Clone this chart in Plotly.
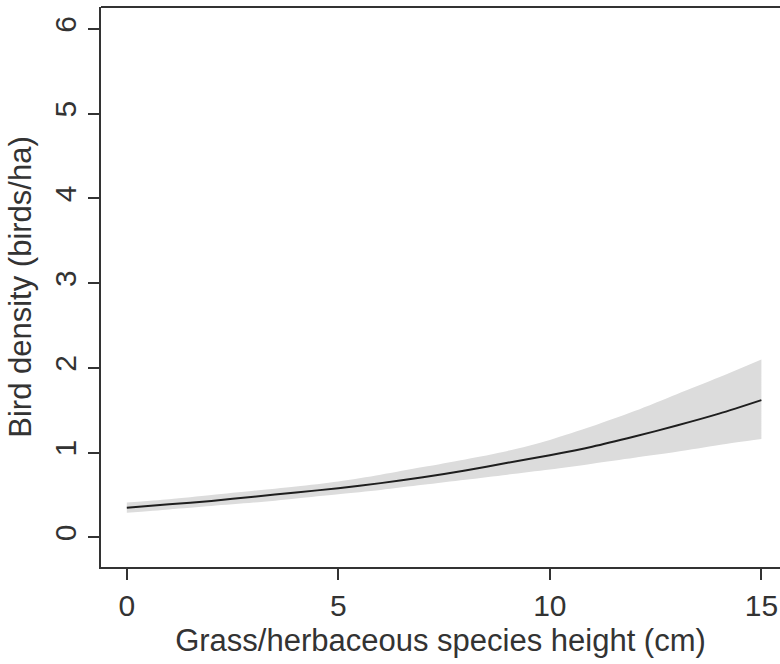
import plotly.graph_objects as go

# Data
height_cm = [0, 1, 2, 3, 4, 5, 6, 7, 8, 9, 10, 11, 12, 13, 14, 15]
density_mean = [0.35, 0.39, 0.43, 0.48, 0.53, 0.58, 0.64, 0.71, 0.79, 0.88, 0.97, 1.07, 1.19, 1.32, 1.46, 1.62]
density_upper = [0.41, 0.45, 0.50, 0.55, 0.60, 0.66, 0.74, 0.83, 0.92, 1.02, 1.15, 1.31, 1.49, 1.69, 1.89, 2.10]
density_lower = [0.29, 0.33, 0.37, 0.41, 0.46, 0.51, 0.56, 0.62, 0.68, 0.74, 0.80, 0.87, 0.94, 1.01, 1.09, 1.16]

x_ticks = [0, 5, 10, 15]
y_ticks = [0, 1, 2, 3, 4, 5, 6]

FONT = "Liberation Sans, Arial, sans-serif"
TXT = "#333333"
AX = "#333333"

fig = go.Figure()
fig.add_trace(go.Scatter(x=height_cm, y=density_lower, mode="lines",
                         line=dict(width=0, color="#dcdcdc", shape="spline", smoothing=0.8),
                         showlegend=False, hoverinfo="skip"))
fig.add_trace(go.Scatter(x=height_cm, y=density_upper, mode="lines", fill="tonexty",
                         fillcolor="#dcdcdc",
                         line=dict(width=0, color="#dcdcdc", shape="spline", smoothing=0.8),
                         showlegend=False, hoverinfo="skip"))
fig.add_trace(go.Scatter(x=height_cm, y=density_mean, mode="lines",
                         line=dict(width=2, color="#1e1e1e", shape="spline", smoothing=0.8),
                         showlegend=False))

fig.add_shape(type="line", xref="paper", yref="paper", x0=0, x1=1, y0=1, y1=1,
              line=dict(color=AX, width=2))

fig.update_layout(
    width=780, height=664,
    margin=dict(l=101, r=0, t=7, b=97),
    paper_bgcolor="white", plot_bgcolor="white",
    font=dict(family=FONT, color=TXT, size=30),
    xaxis=dict(range=[-0.61, 15.44], tickvals=x_ticks, ticks="outside", ticklen=11,
               tickwidth=2, tickcolor=AX, showline=True, linecolor=AX, linewidth=2,
               showgrid=False, zeroline=False, tickfont=dict(size=30, color=TXT),
               title=dict(text="Grass/herbaceous species height (cm)",
                          font=dict(size=31, color=TXT), standoff=8)),
    yaxis=dict(range=[-0.35, 6.26], tickvals=y_ticks, ticks="outside", ticklen=11,
               tickwidth=2, tickcolor=AX, showline=True, linecolor=AX, linewidth=2,
               showgrid=False, zeroline=False, tickangle=-90,
               tickfont=dict(size=30, color=TXT),
               title=dict(text="Bird density (birds/ha)",
                          font=dict(size=31, color=TXT), standoff=8)),
)

fig.write_html("out.html")
